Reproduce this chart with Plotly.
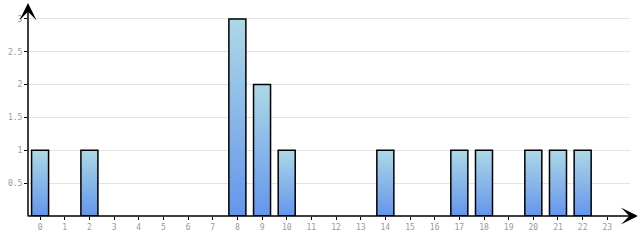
import plotly.graph_objects as go

hours = list(range(24))
counts = [1, 0, 1, 0, 0, 0, 0, 0, 3, 2, 1, 0, 0, 0, 1, 0, 0, 1, 1, 0, 1, 1, 1, 0]
y_ticks = [0.5, 1, 1.5, 2, 2.5, 3]
y_tick_text = ["0.5", "1", "1.5", "2", "2.5", "3"]

BAR_HALF = 0.345
TOP_COLOR = "#add8e6"
BOTTOM_COLOR = "#6495ed"

fig = go.Figure()

for h, v in zip(hours, counts):
    if v <= 0:
        continue
    xs = [h - BAR_HALF, h + BAR_HALF, h + BAR_HALF, h - BAR_HALF, h - BAR_HALF]
    ys = [0, 0, v, v, 0]
    fig.add_trace(go.Scatter(
        x=xs, y=ys, mode="lines", fill="toself",
        fillgradient=dict(type="vertical",
                          colorscale=[[0, BOTTOM_COLOR], [1, TOP_COLOR]]),
        line=dict(color="black", width=1.5),
        hoverinfo="skip", showlegend=False,
    ))

tick_font = dict(family="DejaVu Sans Mono", size=8, color="#999999")

fig.update_layout(
    width=640, height=240,
    margin=dict(l=27, r=10, t=8, b=22),
    paper_bgcolor="white", plot_bgcolor="white",
    showlegend=False,
    xaxis=dict(
        range=[-0.49, 23.92],
        tickvals=hours, ticktext=[str(h) for h in hours],
        showgrid=False, zeroline=False, showline=False,
        ticks="outside", ticklen=3, tickcolor="black", tickwidth=1,
        tickfont=tick_font,
    ),
    yaxis=dict(
        range=[0, 3.166],
        tickvals=y_ticks, ticktext=y_tick_text,
        showgrid=True, gridcolor="#e3e3e3", gridwidth=1,
        zeroline=False, showline=False,
        ticks="outside", ticklen=3, tickcolor="black", tickwidth=1,
        tickfont=tick_font,
    ),
)

# axis lines with arrowheads
fig.add_annotation(
    x=0, y=(218 - 3) / 210, xref="paper", yref="paper",
    ax=0, ay=215, axref="pixel", ayref="pixel",
    text="", showarrow=True, arrowhead=3, arrowsize=1.9, arrowwidth=1.5,
    arrowcolor="black", standoff=0,
)
fig.add_annotation(
    x=(638 - 27) / 603, y=0, xref="paper", yref="paper",
    ax=-611, ay=0, axref="pixel", ayref="pixel",
    text="", showarrow=True, arrowhead=3, arrowsize=1.9, arrowwidth=1.5,
    arrowcolor="black", standoff=0,
)

fig.write_html("out.html")
